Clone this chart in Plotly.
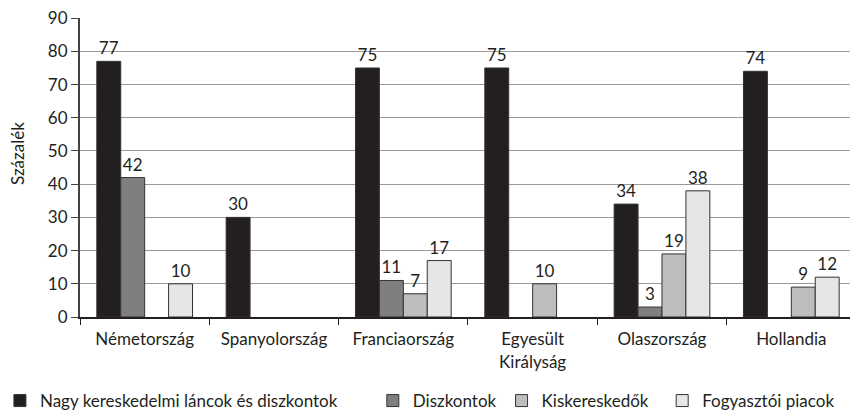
import plotly.graph_objects as go

categories = ["Németország", "Spanyolország", "Franciaország", "Egyesült<br>Királyság", "Olaszország", "Hollandia"]
series_names = ["Nagy kereskedelmi láncok és diszkontok", "Diszkontok", "Kiskereskedők", "Fogyasztói piacok"]
nagy = [77, 30, 75, 75, 34, 74]
diszkont = [42, None, 11, None, 3, None]
kisker = [None, None, 7, 10, 19, 9]
fogyaszt = [10, None, 17, None, 38, 12]
y_ticks = [0, 10, 20, 30, 40, 50, 60, 70, 80, 90]

colors = ["#231f20", "#7f7f81", "#bdbdbf", "#e6e6e8"]
# trailing non-breaking spaces only widen legend entries to match the reference spacing
legend_pad = ["\u00a0" * 7, "", "\u00a0" * 2, ""]
FONT = "Lato"
TXT = "#231f20"

fig = go.Figure()
for name, pad, vals, col in zip(series_names, legend_pad, [nagy, diszkont, kisker, fogyaszt], colors):
    fig.add_trace(go.Bar(
        x=categories, y=vals, name=name + pad,
        marker=dict(color=col, line=dict(color="#333333", width=1)),
        text=[("" if v is None else str(v)) for v in vals],
        textposition="outside", cliponaxis=False,
        textfont=dict(family=FONT, size=17, color=TXT),
    ))

fig.update_layout(
    width=850, height=411,
    margin=dict(l=80, r=0, t=18, b=94, autoexpand=False),
    paper_bgcolor="white", plot_bgcolor="white",
    barmode="group", bargap=0.26, bargroupgap=0,
    font=dict(family=FONT, size=17, color=TXT),
    showlegend=True,
    legend=dict(orientation="h", x=-0.104, xanchor="left", y=-0.281, yanchor="middle",
                font=dict(family=FONT, size=17, color=TXT), itemwidth=30,
                traceorder="normal"),
    xaxis=dict(
        range=[-0.5, -0.5 + 770 / 129.33], automargin=False,
        showline=True, linecolor="#231f20", linewidth=2,
        ticks="outside", tickson="boundaries", ticklen=6, tickcolor="#231f20", tickwidth=1,
        tickfont=dict(family=FONT, size=17, color=TXT), ticklabelstandoff=6,
        showgrid=False,
    ),
    yaxis=dict(
        range=[0, 90.05], tickvals=y_ticks, automargin=False,
        showline=True, linecolor="#444444", linewidth=2,
        ticks="outside", ticklen=7, tickcolor="#444444",
        tickfont=dict(family=FONT, size=17, color=TXT),
        showgrid=True, gridcolor="#9a9a9a", gridwidth=1,
        zeroline=False,
    ),
    annotations=[dict(text="Százalék", xref="paper", yref="paper", x=-0.082, y=0.548,
                      xanchor="center", yanchor="middle",
                      textangle=-90, showarrow=False,
                      font=dict(family=FONT, size=17, color=TXT))],
)

fig.write_html("out.html", config={"displayModeBar": False},
               post_script="document.body.style.margin='0';document.body.style.overflow='hidden';")
